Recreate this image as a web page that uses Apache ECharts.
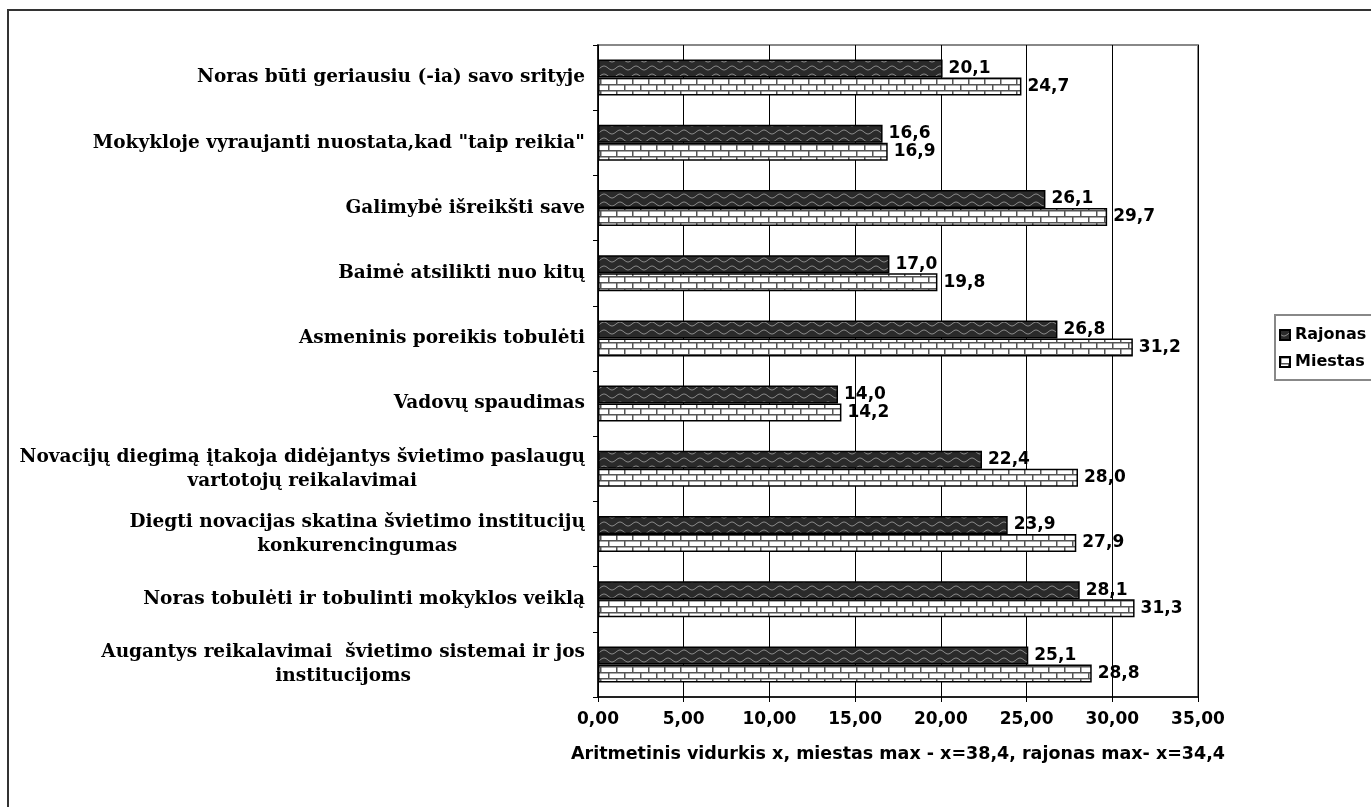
<!DOCTYPE html>
<html>
<head>
<meta charset="utf-8">
<script src="https://cdn.jsdelivr.net/npm/echarts@6/dist/echarts.min.js"></script>
<style>
  html, body { margin: 0; padding: 0; background: #fff; }
  #chart { width: 1371px; height: 807px; }
</style>
</head>
<body>
<div id="chart"></div>
<script>
// categories, top to bottom as in the picture
var categories = [
  'Noras būti geriausiu (-ia) savo srityje',
  'Mokykloje vyraujanti nuostata,kad "taip reikia"',
  'Galimybė išreikšti save',
  'Baimė atsilikti nuo kitų',
  'Asmeninis poreikis tobulėti',
  'Vadovų spaudimas',
  'Novacijų diegimą įtakoja didėjantys švietimo paslaugų\nvartotojų reikalavimai',
  'Diegti novacijas skatina švietimo institucijų\nkonkurencingumas',
  'Noras tobulėti ir tobulinti mokyklos veiklą',
  'Augantys reikalavimai  švietimo sistemai ir jos\ninstitucijoms'
];
var rajonas = [20.1, 16.6, 26.1, 17.0, 26.8, 14.0, 22.4, 23.9, 28.1, 25.1];
var miestas = [24.7, 16.9, 29.7, 19.8, 31.2, 14.2, 28.0, 27.9, 31.3, 28.8];
var seriesNames = ['Rajonas', 'Miestas'];
var xTicks = [0, 5, 10, 15, 20, 25, 30, 35];
var axisTitle = 'Aritmetinis vidurkis x, miestas max - x=38,4, rajonas max- x=34,4';

// fill patterns (wave on dark, brick on white)
function wavePattern() {
  var c = document.createElement('canvas');
  c.width = 16; c.height = 8;
  var ctx = c.getContext('2d');
  ctx.fillStyle = '#2a2a2a';
  ctx.fillRect(0, 0, 16, 8);
  ctx.strokeStyle = '#8a8a8a';
  ctx.lineWidth = 1;
  ctx.beginPath();
  for (var x = 0; x <= 16; x++) {
    var y = 4 + 2 * Math.sin(x / 16 * Math.PI * 2);
    if (x === 0) ctx.moveTo(x, y); else ctx.lineTo(x, y);
  }
  ctx.stroke();
  return c;
}
function brickPattern() {
  var c = document.createElement('canvas');
  c.width = 16; c.height = 12;
  var ctx = c.getContext('2d');
  ctx.fillStyle = '#ffffff';
  ctx.fillRect(0, 0, 16, 12);
  ctx.fillStyle = '#555';
  ctx.fillRect(0, 0, 16, 1.5);
  ctx.fillRect(0, 6, 16, 1.5);
  ctx.fillRect(0, 0, 1.5, 6);
  ctx.fillRect(8, 6, 1.5, 6);
  return c;
}

function fmt(v) { return v.toFixed(1).replace('.', ','); }

var sans = 'DejaVu Sans';
var chart = echarts.init(document.getElementById('chart'));
var labelStyle = {
  show: true,
  position: 'right',
  distance: 6,
  fontFamily: sans,
  fontWeight: 'bold',
  fontSize: 17,
  color: '#000',
  formatter: function (p) { return fmt(p.value); }
};

chart.setOption({
  animation: false,
  graphic: [{
    type: 'rect',
    shape: { x: 8, y: 10, width: 1420, height: 900 },
    style: { fill: 'none', stroke: '#333', lineWidth: 2 },
    z: -1
  }],
  grid: {
    left: 598, right: 173, top: 45, bottom: 110,
    show: true, borderColor: '#888', borderWidth: 2,
    outerBoundsMode: 'none'
  },
  legend: {
    orient: 'vertical',
    left: 1275, top: 315,
    padding: [12, 30, 10, 4],
    itemGap: 11,
    icon: 'rect',
    itemWidth: 10, itemHeight: 10,
    borderColor: '#888', borderWidth: 2,
    textStyle: { fontFamily: sans, fontWeight: 'bold', fontSize: 16, color: '#000' },
    data: seriesNames
  },
  xAxis: {
    type: 'value',
    min: 0, max: 35, interval: 5,
    axisLine: { show: true, lineStyle: { color: '#000', width: 1.5 } },
    axisTick: { show: true, length: 5, lineStyle: { color: '#000' } },
    splitLine: { show: true, lineStyle: { color: '#000', width: 1 } },
    axisLabel: {
      margin: 14,
      fontFamily: sans, fontWeight: 'bold', fontSize: 17, color: '#000',
      formatter: function (v) { return xTicks.indexOf(v) >= 0 ? v.toFixed(2).replace('.', ',') : ''; }
    },
    name: axisTitle,
    nameLocation: 'middle',
    nameGap: 48,
    nameTextStyle: { fontFamily: sans, fontWeight: 'bold', fontSize: 17.5, color: '#000' }
  },
  yAxis: {
    type: 'category',
    inverse: true,
    data: categories,
    axisLine: { show: true, lineStyle: { color: '#000', width: 1.5 } },
    axisTick: { show: true, length: 5, lineStyle: { color: '#000' } },
    axisLabel: {
      margin: 13,
      align: 'right',
      lineHeight: 24,
      formatter: function (v) {
        return v.split('\n').map(function (s) { return '{a|' + s + '}'; }).join('\n');
      },
      rich: {
        a: {
          align: 'center',
          fontFamily: 'DejaVu Serif', fontWeight: 'bold', fontSize: 18.5, color: '#000',
          lineHeight: 24
        }
      }
    }
  },
  series: [{
    name: seriesNames[0],
    type: 'bar',
    data: rajonas,
    barWidth: 18,
    barGap: '0%',
    itemStyle: { color: { image: wavePattern(), repeat: 'repeat' }, borderColor: '#000', borderWidth: 1.5 },
    label: labelStyle
  }, {
    name: seriesNames[1],
    type: 'bar',
    data: miestas,
    barWidth: 18,
    itemStyle: { color: { image: brickPattern(), repeat: 'repeat' }, borderColor: '#000', borderWidth: 1.5 },
    label: labelStyle
  }]
});
</script>
</body>
</html>
